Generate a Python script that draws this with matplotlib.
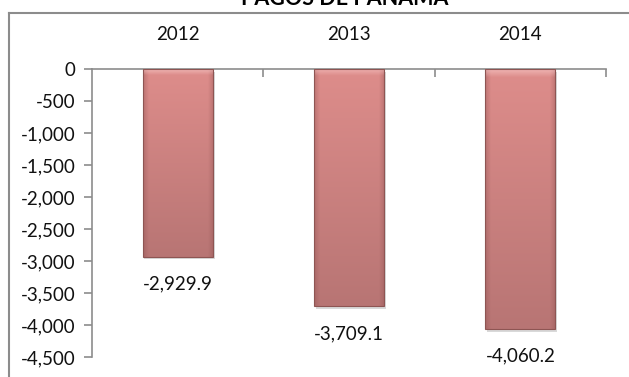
import matplotlib
matplotlib.use("Agg")
import matplotlib.pyplot as plt
import numpy as np
from matplotlib.patches import Rectangle
from matplotlib.colors import to_rgb
from matplotlib.lines import Line2D

plt.rcParams['font.family'] = ['Lato', 'DejaVu Sans']

title = "PAGOS DE PANAMA"
years = ["2012", "2013", "2014"]
values = [-2929.9, -3709.1, -4060.2]
yticks = [0, -500, -1000, -1500, -2000, -2500, -3000, -3500, -4000, -4500]

W, H = 629, 377
fig = plt.figure(figsize=(W / 100, H / 100), dpi=100)
ax = fig.add_axes([92 / W, 1 - 357 / H, 514 / W, 288 / H])

gray = "#8c8c8c"
top_c = np.array(to_rgb("#de8d8b"))
bot_c = np.array(to_rgb("#b87574"))
edge_c = np.array(to_rgb("#8a4f4e"))
ny, nx = 256, 64
t = np.linspace(0, 1, ny)[:, None, None]
base = top_c * (1 - t) + bot_c * t
base = np.repeat(base, nx, axis=1)
# darker side bevels
u = np.linspace(0, 1, nx)
side = np.clip(1 - np.minimum(u, 1 - u) / 0.08, 0, 1)[None, :, None]
img = base * (1 - 0.35 * side) + edge_c * 0.35 * side
# light top bevel
tt = np.clip(1 - np.linspace(0, 1, ny) / 0.03, 0, 1)[:, None, None]
img = img * (1 - 0.5 * tt) + np.array([1, 0.85, 0.85]) * 0.5 * tt
img = np.clip(img, 0, 1)

bw = 0.41
x = np.arange(len(years))
for xi, v in zip(x, values):
    sh = Rectangle((xi - bw / 2 + 0.01, v - 45), bw, -v, facecolor="#000000",
                   alpha=0.15, edgecolor="none", zorder=1)
    ax.add_patch(sh)
    rect = Rectangle((xi - bw / 2, v), bw, -v, facecolor="none",
                     edgecolor="#8e5553", linewidth=0.8, zorder=3)
    ax.add_patch(rect)
    im = ax.imshow(img, extent=[xi - bw / 2, xi + bw / 2, v, 0], aspect="auto",
                   zorder=2, origin="upper", interpolation="bilinear")
    im.set_clip_path(rect)
    ax.annotate(f"{v:,.1f}", xy=(xi, v), xytext=(0, -19.5), textcoords="offset points",
                ha="center", va="center", fontsize=13.5, color="#111111")

ax.set_xlim(-0.5, len(years) - 0.5)
ax.set_ylim(-4500, 0)

ax.xaxis.tick_top()
ax.set_xticks(x)
ax.set_xticklabels(years, fontsize=13.5, color="#111111")
ax.set_xticks(np.arange(len(years)) + 0.5, minor=True)
ax.tick_params(axis="x", which="major", length=0, pad=19)
ax.tick_params(axis="x", which="minor", direction="in", length=6, color=gray, width=1.2)

ax.set_yticks(yticks)
ax.set_yticklabels([f"{t:,.0f}" for t in yticks], fontsize=13.5, color="#111111")
ax.tick_params(axis="y", direction="out", length=6, color=gray, width=1.2, pad=6)

for s in ["right", "bottom"]:
    ax.spines[s].set_visible(False)
for s in ["left", "top"]:
    ax.spines[s].set_color(gray)
    ax.spines[s].set_linewidth(1.2)

fig.add_artist(Line2D([8.5 / W, 8.5 / W], [0, 1 - 12.5 / H], transform=fig.transFigure,
                      color=gray, lw=1.5))
fig.add_artist(Line2D([8.5 / W, 1], [1 - 12.5 / H, 1 - 12.5 / H], transform=fig.transFigure,
                      color=gray, lw=1.5))

fig.text(345 / W, 1 - 5 / H, title, ha="center", va="baseline", fontsize=15.5,
         fontweight="bold", color="#000000")

fig.savefig("out.png", dpi=100)
